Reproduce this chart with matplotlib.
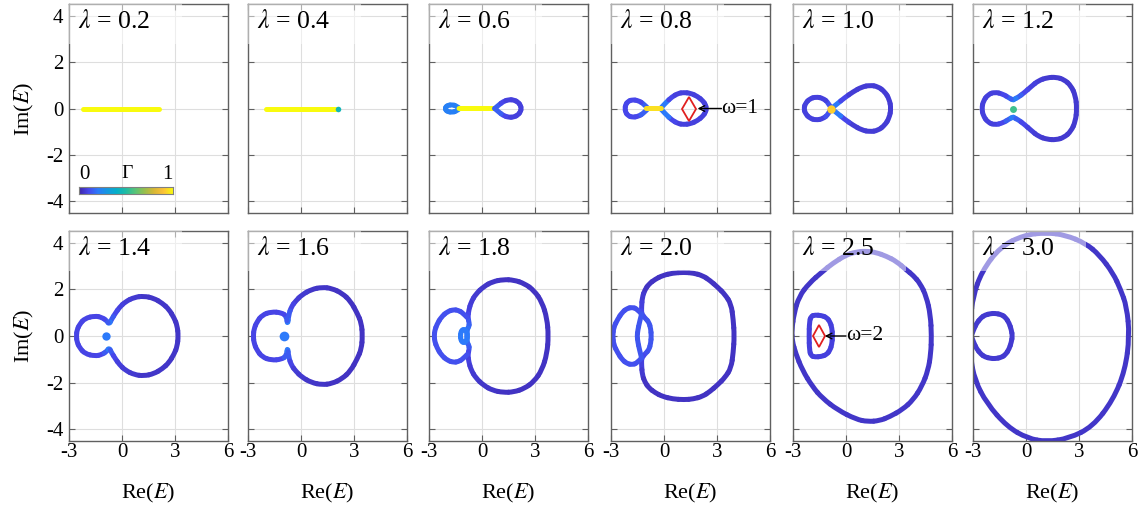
import numpy as np
import matplotlib.pyplot as plt
from matplotlib.colors import LinearSegmentedColormap
from matplotlib.patches import Rectangle, PathPatch
from matplotlib.path import Path
from matplotlib.collections import PatchCollection

plt.rcParams['font.family'] = ['Liberation Serif', 'DejaVu Serif']
plt.rcParams['mathtext.fontset'] = 'stix'

# panel labels and axes
lams = ['0.2', '0.4', '0.6', '0.8', '1.0', '1.2', '1.4', '1.6', '1.8', '2.0', '2.5', '3.0']
xticks = [-3, 0, 3, 6]
xtick_labels = ['-3', '0', '3', '6']
yticks = [-4, -2, 0, 2, 4]
ytick_labels = ['-4', '-2', '0', '2', '4']

# parula-like colour map for Gamma
parula_pos = [0.0, 0.1, 0.2, 0.3, 0.4, 0.5, 0.6, 0.7, 0.8, 0.9, 1.0]
parula_rgb = [(0.2422, 0.1504, 0.6603), (0.2803, 0.2782, 0.9221), (0.1707, 0.4800, 0.9800),
              (0.0814, 0.5983, 0.8783), (0.0200, 0.6900, 0.7900), (0.1300, 0.7400, 0.6400),
              (0.3500, 0.7700, 0.4700), (0.6000, 0.7500, 0.3000), (0.8500, 0.7200, 0.2100),
              (0.9900, 0.7600, 0.2200), (0.9763, 0.9831, 0.0538)]
cmap = LinearSegmentedColormap.from_list('parula', list(zip(parula_pos, parula_rgb)))

# ---- spectra (upper halves are mirrored about Im(E)=0) ----
l02_x = [-2.2, 2.1]
l02_y = [0, 0]
l02_g = [1, 1]

l04_x = [-2.0, 2.05]
l04_y = [0, 0]
l04_g = [1, 1]

l06_left_x = [-1.27, -1.45, -1.7, -1.92, -2.05, -2.07]
l06_left_y = [0, 0.12, 0.16, 0.14, 0.07, 0]
l06_bar_x = [-1.3, -1.1, 0.5, 0.72]
l06_bar_y = [0, 0, 0, 0]
l06_bar_g = [0.4, 1, 1, 0.4]
l06_right_x = [0.72, 0.95, 1.2, 1.5, 1.8, 2.05, 2.18, 2.22]
l06_right_y = [0, 0.15, 0.3, 0.38, 0.37, 0.27, 0.13, 0]
l06_right_g = [0.25, 0.15, 0.1, 0.08, 0.08, 0.08, 0.08, 0.08]

l08_left_x = [-0.9, -1.15, -1.45, -1.8, -2.05, -2.18, -2.2]
l08_left_y = [0, 0.2, 0.34, 0.38, 0.3, 0.15, 0]
l08_left_g = [0.35, 0.15, 0.1, 0.1, 0.1, 0.1, 0.1]
l08_bar_x = [-1.0, -0.85, -0.35, -0.15]
l08_bar_y = [0, 0, 0, 0]
l08_bar_g = [0.3, 0.95, 0.95, 0.3]
l08_right_x = [-0.2, 0.1, 0.45, 0.8, 1.1, 1.5, 1.9, 2.2, 2.36, 2.39]
l08_right_y = [0, 0.25, 0.5, 0.65, 0.69, 0.66, 0.52, 0.33, 0.15, 0]
l08_right_g = [0.35, 0.2, 0.1, 0.08, 0.08, 0.08, 0.08, 0.08, 0.08, 0.08]

l10_left_x = [-0.83, -1.0, -1.3, -1.7, -2.05, -2.3, -2.38]
l10_left_y = [0, 0.25, 0.44, 0.5, 0.42, 0.22, 0]
l10_left_g = [0.3, 0.12, 0.08, 0.08, 0.08, 0.08, 0.08]
l10_right_x = [-0.83, -0.5, -0.1, 0.4, 0.9, 1.35, 1.8, 2.2, 2.45, 2.55]
l10_right_y = [0, 0.2, 0.45, 0.72, 0.93, 1.0, 0.95, 0.72, 0.4, 0]
l10_right_g = [0.3, 0.2, 0.1, 0.07, 0.07, 0.07, 0.07, 0.07, 0.07, 0.07]

l12_x = [2.88, 2.8, 2.55, 2.15, 1.7, 1.2, 0.7, 0.3, -0.1, -0.45, -0.68, -0.72, -0.95, -1.3, -1.77, -2.15, -2.42, -2.5]
l12_y = [0, 0.55, 0.98, 1.25, 1.35, 1.33, 1.2, 0.95, 0.68, 0.48, 0.4, 0.36, 0.45, 0.62, 0.71, 0.6, 0.32, 0]
l12_g = [0.06, 0.06, 0.06, 0.06, 0.06, 0.06, 0.07, 0.08, 0.1, 0.15, 0.2, 0.22, 0.15, 0.1, 0.08, 0.08, 0.08, 0.08]

l14_x = [3.19, 3.12, 2.96, 2.65, 2.29, 1.8, 1.24, 0.7, 0.19, -0.15, -0.38, -0.6, -0.73, -0.85, -1.15, -1.53, -2.1, -2.4, -2.55, -2.58]
l14_y = [0, 0.45, 0.76, 1.15, 1.4, 1.62, 1.71, 1.66, 1.47, 1.22, 0.97, 0.7, 0.5, 0.65, 0.8, 0.86, 0.76, 0.5, 0.25, 0]
l14_g = [0.05, 0.05, 0.05, 0.05, 0.05, 0.05, 0.05, 0.06, 0.07, 0.08, 0.1, 0.14, 0.2, 0.14, 0.1, 0.09, 0.09, 0.09, 0.09, 0.09]

l16_x = [3.48, 3.42, 3.19, 2.8, 2.33, 1.75, 1.19, 0.6, 0.04, -0.3, -0.54, -0.7, -0.76, -0.82, -1.1, -1.68, -2.2, -2.5, -2.66, -2.7]
l16_y = [0, 0.55, 0.97, 1.5, 1.83, 2.04, 2.09, 2.0, 1.76, 1.5, 1.26, 0.9, 0.45, 0.85, 1.0, 1.04, 0.9, 0.6, 0.3, 0]
l16_g = [0.04, 0.04, 0.04, 0.04, 0.04, 0.04, 0.05, 0.05, 0.06, 0.07, 0.09, 0.14, 0.2, 0.14, 0.1, 0.09, 0.09, 0.09, 0.09, 0.09]

l18_big_x = [3.76, 3.68, 3.4, 2.95, 2.4, 1.8, 1.2, 0.6, 0.1, -0.35, -0.62, -0.75, -0.8, -0.72, -0.74, -0.85]
l18_big_y = [0, 0.75, 1.45, 1.95, 2.25, 2.4, 2.42, 2.33, 2.12, 1.8, 1.45, 1.1, 0.8, 0.55, 0.4, 0.28]
l18_big_g = [0.04, 0.04, 0.04, 0.04, 0.04, 0.04, 0.04, 0.05, 0.05, 0.06, 0.07, 0.08, 0.1, 0.14, 0.16, 0.18]
l18_left_x = [-0.85, -1.1, -1.35, -1.6, -1.95, -2.3, -2.55, -2.68, -2.7]
l18_left_y = [0.8, 1.0, 1.1, 1.13, 1.05, 0.82, 0.5, 0.22, 0]
l18_oval_x = [-0.82, -0.86, -0.95, -1.05, -1.14, -1.2, -1.22]
l18_oval_y = [0, 0.17, 0.26, 0.28, 0.24, 0.14, 0]

l20_big_x = [3.98, 3.92, 3.8, 3.45, 3.04, 2.6, 2.18, 1.65, 1.14, 0.5, -0.09, -0.5, -0.85, -1.08, -1.23, -1.27, -1.27, -1.05, -0.85, -0.75, -0.72]
l20_big_y = [0, 0.7, 1.37, 1.78, 2.09, 2.38, 2.59, 2.7, 2.73, 2.7, 2.59, 2.43, 2.23, 1.98, 1.66, 1.23, 0.94, 0.75, 0.59, 0.3, 0]
l20_big_g = [0.04] * 14 + [0.06, 0.08, 0.1, 0.12, 0.13, 0.13, 0.13]
l20_left_x = [-1.27, -1.52, -1.8, -2.1, -2.37, -2.62, -2.85, -2.9]
l20_left_y = [0.94, 1.16, 1.23, 1.18, 1.01, 0.72, 0.37, 0]
l20_inner_x = [-1.27, -1.4, -1.48, -1.52]
l20_inner_y = [0.94, 0.55, 0.25, 0]

l25_big_x = [4.84, 4.78, 4.55, 4.2, 3.8, 3.42, 2.85, 2.28, 1.7, 1.14, 0.55, 0.0, -0.76, -1.33, -2.09, -2.66, -2.94,
             -3.07, -3.05, -2.85, -2.47, -1.9, -1.33, -0.47, 0.57, 1.23, 1.9, 2.47, 3.2, 3.8, 4.3, 4.65, 4.8, 4.84]
l25_big_y = [0, 0.9, 1.69, 2.25, 2.6, 2.83, 3.2, 3.42, 3.58, 3.64, 3.6, 3.47, 3.11, 2.76, 2.26, 1.69, 0.97,
             0.26, -0.2, -0.74, -1.46, -2.17, -2.67, -3.17, -3.57, -3.67, -3.63, -3.46, -3.15, -2.74, -2.15, -1.46, -0.75, 0]
l25_d_x = [-0.76, -0.8, -0.9, -1.1, -1.4, -1.75, -1.98, -2.07, -2.09]
l25_d_y = [0, 0.35, 0.6, 0.8, 0.88, 0.9, 0.85, 0.6, 0]

l30_big_x = [5.86, 5.7, 5.35, 4.93, 4.16, 3.38, 2.22, 1.16, -0.1, -1.45, -2.51, -3.0, -3.15, -3.1, -3.15, -2.9,
             -2.22, -1.06, 0.1, 1.16, 2.42, 3.77, 4.93, 5.61, 5.86]
l30_big_y = [0, 1.26, 2.0, 2.69, 3.47, 3.97, 4.33, 4.43, 4.33, 3.83, 2.76, 1.69, 0.69, 0, -0.89, -1.89,
             -2.89, -3.89, -4.39, -4.53, -4.39, -3.89, -2.74, -1.46, 0]
l30_small_x = [-3.1, -2.95, -2.8, -2.55, -2.32, -2.0, -1.74, -1.4, -1.16, -0.95, -0.83, -0.77]
l30_small_y = [0, 0.3, 0.54, 0.78, 0.9, 0.96, 0.97, 0.92, 0.8, 0.55, 0.26, 0]

# isolated points (x, y, Gamma, size)
dots = {1: [(2.1, 0, 0.45, 4)], 4: [(-0.83, 0, 0.92, 6)], 5: [(-0.74, 0, 0.55, 5)],
        6: [(-0.9, 0, 0.2, 6)], 7: [(-0.96, 0, 0.2, 7)]}

# frequency markers
omega_x = {3: 1.43, 10: -1.52}
omega_text = {3: 'ω=1', 10: 'ω=2'}
omega_text_x = {3: 3.25, 10: 0.0}
omega_tip_x = {3: 1.9, 10: -1.2}


def mirror(xs, ys, gs, closed=False):
    if np.isscalar(gs):
        gs = [gs] * len(xs)
    return (list(xs) + list(xs[::-1]), list(ys) + [-v for v in ys[::-1]],
            list(gs) + list(gs[::-1]), closed)


def plain(xs, ys, gs, closed=False):
    if np.isscalar(gs):
        gs = [gs] * len(xs)
    return list(xs), list(ys), list(gs), closed


curves = [
    [plain(l02_x, l02_y, l02_g)],
    [plain(l04_x, l04_y, l04_g)],
    [mirror(l06_left_x, l06_left_y, 0.22), plain(l06_bar_x, l06_bar_y, l06_bar_g),
     mirror(l06_right_x, l06_right_y, l06_right_g)],
    [mirror(l08_left_x, l08_left_y, l08_left_g), mirror(l08_right_x, l08_right_y, l08_right_g),
     plain(l08_bar_x, l08_bar_y, l08_bar_g)],
    [mirror(l10_left_x, l10_left_y, l10_left_g), mirror(l10_right_x, l10_right_y, l10_right_g)],
    [mirror(l12_x, l12_y, l12_g, True)],
    [mirror(l14_x, l14_y, l14_g, True)],
    [mirror(l16_x, l16_y, l16_g, True)],
    [mirror(l18_big_x, l18_big_y, l18_big_g, True), mirror(l18_left_x, l18_left_y, 0.12),
     mirror(l18_oval_x, l18_oval_y, 0.2, True)],
    [mirror(l20_big_x, l20_big_y, l20_big_g, True), mirror(l20_left_x, l20_left_y, 0.12),
     mirror(l20_inner_x, l20_inner_y, 0.13)],
    [plain(l25_big_x, l25_big_y, 0.05, True), mirror(l25_d_x, l25_d_y, 0.08, True)],
    [plain(l30_big_x, l30_big_y, 0.05, True), mirror(l30_small_x, l30_small_y, 0.06)],
]


def draw_curve(ax, xs, ys, gs, closed, lw=3.6):
    # smooth quadratic-Bezier rendering through the read points
    pts = np.column_stack([xs, ys]).astype(float)
    g = np.asarray(gs, float)
    keep = np.r_[True, np.any(np.diff(pts, axis=0) != 0, axis=1)]
    pts, g = pts[keep], g[keep]
    if closed and np.allclose(pts[0], pts[-1]):
        pts, g = pts[:-1], g[:-1]
    n = len(pts)
    pieces, cols = [], []
    if n == 2:
        pieces.append(Path(pts, [Path.MOVETO, Path.LINETO]))
        cols.append(g.mean())
    elif closed:
        for i in range(n):
            a = (pts[i - 1] + pts[i]) / 2
            b = (pts[i] + pts[(i + 1) % n]) / 2
            pieces.append(Path([a, pts[i], b], [Path.MOVETO, Path.CURVE3, Path.CURVE3]))
            cols.append(g[i])
    else:
        for i in range(1, n - 1):
            a = pts[0] if i == 1 else (pts[i - 1] + pts[i]) / 2
            b = pts[-1] if i == n - 2 else (pts[i] + pts[i + 1]) / 2
            pieces.append(Path([a, pts[i], b], [Path.MOVETO, Path.CURVE3, Path.CURVE3]))
            cols.append(g[i])
    pc = PatchCollection([PathPatch(p) for p in pieces], facecolors='none',
                         edgecolors=cmap(np.asarray(cols)), linewidths=lw,
                         capstyle='round', joinstyle='round', zorder=2)
    ax.add_collection(pc)


fig = plt.figure(figsize=(11.45, 5.08), dpi=100)
W, H = 1145, 508
lefts = [69, 248, 429, 611, 793, 973]
row_tb = [(4, 213), (231, 441)]

for i, lam in enumerate(lams):
    r, c = divmod(i, 6)
    top, bot = row_tb[r]
    ax = fig.add_axes([lefts[c] / W, (H - bot) / H, 159 / W, (bot - top) / H])
    ax.set_xlim(-3, 6)
    ax.set_ylim(-4.5, 4.5)
    ax.set_axisbelow(True)
    ax.grid(True, color='#dedede', lw=0.8)
    ax.set_xticks(xticks)
    ax.set_yticks(yticks)
    ax.tick_params(direction='in', length=4, width=0.8, color='#606060',
                   top=True, right=True, labelsize=15)
    ax.tick_params(axis='x', pad=1.5)
    ax.tick_params(axis='y', pad=4)
    for s in ax.spines.values():
        s.set_color('#606060')
        s.set_linewidth(1.0)
    if r == 1:
        ax.set_xticklabels(xtick_labels)
        ax.set_xlabel('Re($E$)', fontsize=16, labelpad=14)
    else:
        ax.set_xticklabels([])
    if c == 0:
        ax.set_yticklabels(ytick_labels)
        ax.set_ylabel('Im($E$)', fontsize=16, labelpad=7)
    else:
        ax.set_yticklabels([])

    for xs, ys, gs, closed in curves[i]:
        draw_curve(ax, xs, ys, gs, closed)
    for dx, dy, dg, ds in dots.get(i, []):
        ax.plot(dx, dy, 'o', ms=ds, color=cmap(dg), mec='none', zorder=2.5)

    if i in omega_x:
        ax.plot(omega_x[i], 0, 'd', ms=12 if i == 3 else 11, mfc='none', mec='#e02020', mew=1.3, zorder=3)
        ax.annotate('', xy=(omega_tip_x[i], 0), xytext=(omega_text_x[i], 0),
                    arrowprops=dict(arrowstyle='->', lw=1.0, color='k', shrinkA=0, shrinkB=0), zorder=3)
        ax.text(omega_text_x[i], 0, omega_text[i], fontsize=15.5, ha='left', va='center', zorder=4)

    # semi-transparent label box
    ax.add_patch(Rectangle((0.0, 0.811), 0.709, 0.189, transform=ax.transAxes,
                           facecolor='white', alpha=0.5, edgecolor='none', zorder=3))
    ax.text(0.055, 0.915, r'$\lambda$ = ' + lam, transform=ax.transAxes, fontsize=18.5,
            ha='left', va='center', zorder=4)

    if i == 0:
        cax = ax.inset_axes([0.063, 0.091, 0.591, 0.033])
        cax.imshow(np.linspace(0, 1, 256)[None, :], cmap=cmap, aspect='auto', extent=(0, 1, 0, 1))
        cax.set_xticks([])
        cax.set_yticks([])
        for s in cax.spines.values():
            s.set_color('#808080')
            s.set_linewidth(0.8)
        ax.text(0.1, 0.185, '0', transform=ax.transAxes, fontsize=15, ha='center', va='center')
        ax.text(0.365, 0.19, 'Γ', transform=ax.transAxes, fontsize=14, ha='center', va='center')
        ax.text(0.62, 0.185, '1', transform=ax.transAxes, fontsize=15, ha='center', va='center')

fig.savefig('out.png', dpi=100)
